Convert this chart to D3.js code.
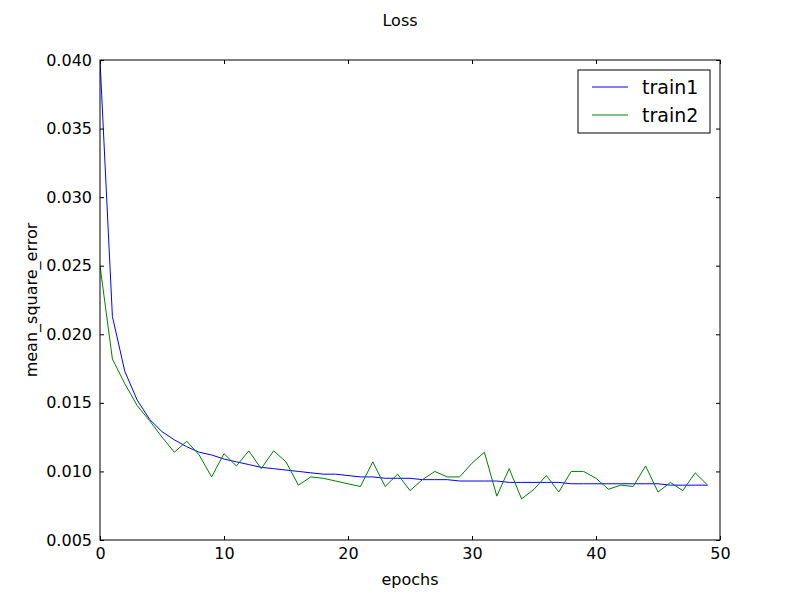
<!DOCTYPE html>
<html><head><meta charset="utf-8">
<script src="https://cdn.jsdelivr.net/npm/d3@7"></script>
<style>body{margin:0;background:#fff}text{font-family:"DejaVu Sans",sans-serif}</style>
</head><body><svg id="c" width="800" height="600"></svg>
<script>
const train1=[0.040,0.0213,0.0173,0.0152,0.0138,0.0129,0.0123,0.0118,0.0114,0.0112,0.0109,0.0107,0.0105,0.0103,0.0102,0.0101,0.0100,0.0099,0.0098,0.0098,0.0097,0.0096,0.0096,0.0095,0.0095,0.0095,0.0094,0.0094,0.0094,0.0093,0.0093,0.0093,0.0093,0.0092,0.0092,0.0092,0.0092,0.0092,0.0091,0.0091,0.0091,0.0091,0.0091,0.0091,0.0091,0.0091,0.0090,0.0090,0.0090,0.0090];
const train2=[0.025,0.0182,0.0164,0.0148,0.0137,0.0125,0.0114,0.0122,0.0112,0.0096,0.0113,0.0104,0.0115,0.0102,0.0115,0.0107,0.0090,0.0096,0.0095,0.0093,0.0091,0.0089,0.0107,0.0089,0.0098,0.0086,0.0094,0.0100,0.0096,0.0096,0.0106,0.0114,0.0082,0.0102,0.0080,0.0087,0.0097,0.0085,0.0100,0.0100,0.0095,0.0087,0.0090,0.0089,0.0104,0.0085,0.0092,0.0086,0.0099,0.0090];
const xTicks=[0,10,20,30,40,50];
const yTicks=[0.005,0.010,0.015,0.020,0.025,0.030,0.035,0.040];
const svg=d3.select("#c");
const L=100,R=720,T=60,B=540;
const x=d3.scaleLinear().domain([0,50]).range([L,R]);
const y=d3.scaleLinear().domain([0.005,0.040]).range([B,T]);
const line=d3.line().x((d,i)=>x(i)).y(d=>y(d));
const clip=svg.append("clipPath").attr("id","cl").append("rect").attr("x",L).attr("y",T).attr("width",R-L).attr("height",B-T);
svg.append("path").datum(train1).attr("d",line).attr("fill","none").attr("stroke","#0000ff").attr("stroke-width",1).attr("clip-path","url(#cl)");
svg.append("path").datum(train2).attr("d",line).attr("fill","none").attr("stroke","#008000").attr("stroke-width",1).attr("clip-path","url(#cl)");
const fmt=d3.format(".3f");
svg.append("g").attr("transform",`translate(0,${B})`).call(d3.axisBottom(x).tickValues(xTicks).tickSize(-4).tickPadding(8)).call(g=>g.select(".domain").remove());
svg.append("g").attr("transform",`translate(0,${T})`).call(d3.axisTop(x).tickValues(xTicks).tickSize(-4).tickFormat("")).call(g=>g.select(".domain").remove());
svg.append("g").attr("transform",`translate(${L},0)`).call(d3.axisLeft(y).tickValues(yTicks).tickSize(-4).tickPadding(8).tickFormat(fmt)).call(g=>g.select(".domain").remove());
svg.append("g").attr("transform",`translate(${R},0)`).call(d3.axisRight(y).tickValues(yTicks).tickSize(-4).tickFormat("")).call(g=>g.select(".domain").remove());
svg.selectAll(".tick text").attr("font-size",16).attr("font-family","DejaVu Sans").attr("fill","#000");
svg.selectAll(".tick line").attr("stroke","#000");
svg.append("rect").attr("x",L).attr("y",T).attr("width",R-L).attr("height",B-T).attr("fill","none").attr("stroke","#000");
svg.append("text").attr("x",400).attr("y",26).attr("text-anchor","middle").attr("font-size",16).text("Loss");
svg.append("text").attr("x",410).attr("y",585).attr("text-anchor","middle").attr("font-size",16).text("epochs");
svg.append("text").attr("transform","translate(37,300) rotate(-90)").attr("text-anchor","middle").attr("font-size",16).text("mean_square_error");
const lg=svg.append("g");
lg.append("rect").attr("x",578).attr("y",70).attr("width",132).attr("height",63).attr("fill","#fff").attr("stroke","#000");
[["train1","#0000ff"],["train2","#008000"]].forEach((s,i)=>{
 const yy=87+i*28;
 lg.append("line").attr("x1",592).attr("x2",628).attr("y1",yy).attr("y2",yy).attr("stroke",s[1]);
 lg.append("text").attr("x",642).attr("y",yy+7).attr("font-size",19).text(s[0]);
});
</script></body></html>
